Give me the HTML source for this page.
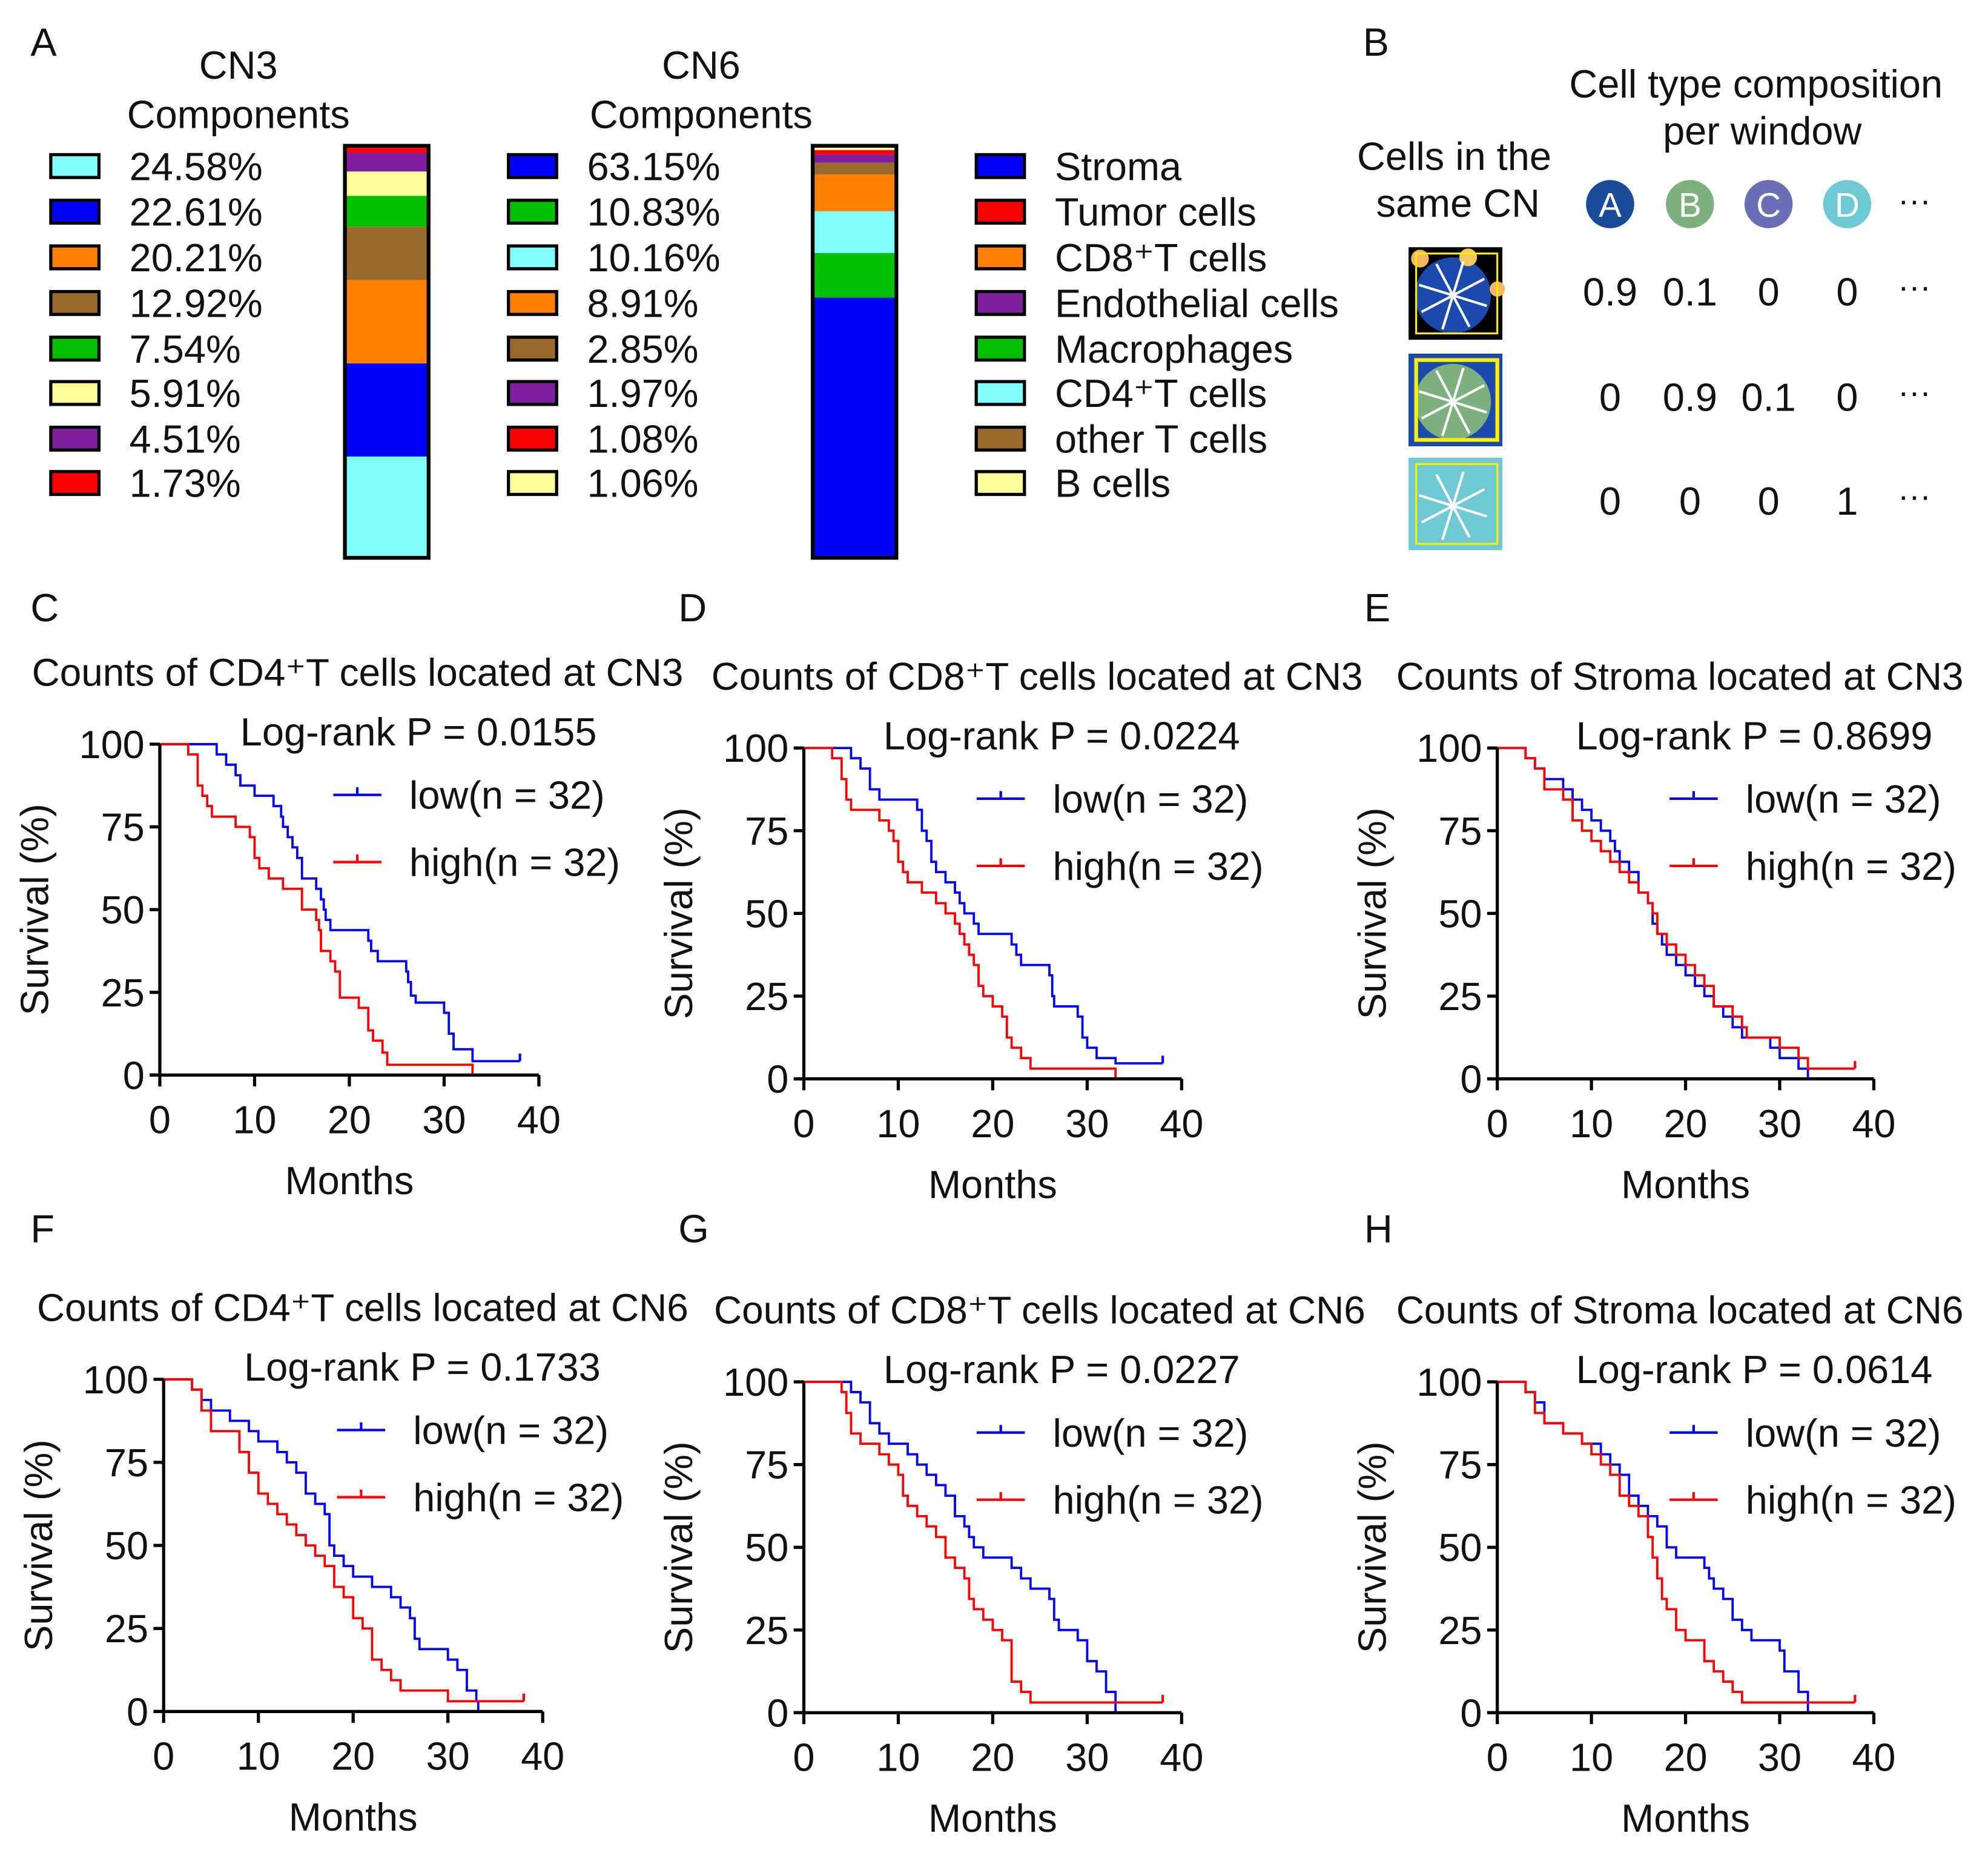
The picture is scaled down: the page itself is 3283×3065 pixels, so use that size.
<!DOCTYPE html>
<html><head><meta charset="utf-8"><style>
html,body{margin:0;padding:0;background:#fff}
svg{display:block}
text{font-family:"Liberation Sans",Arial,sans-serif;fill:#111}
</style></head><body>
<svg id="fig" width="3283" height="3065" viewBox="0 0 1568 1464" xmlns="http://www.w3.org/2000/svg">
<g id="panelA"></g>
<g id="panelB"></g>
<g id="km"></g>
</svg>
<script>
const NS="http://www.w3.org/2000/svg";
function el(tag,attrs,parent,txt){const e=document.createElementNS(NS,tag);for(const k in attrs)e.setAttribute(k,attrs[k]);if(txt!==undefined)e.textContent=txt;parent.appendChild(e);return e;}
const FS=31;

// ---------- Panel A data ----------
const cn3Labels=["24.58%","22.61%","20.21%","12.92%","7.54%","5.91%","4.51%","1.73%"];
const cn3Values=[24.58,22.61,20.21,12.92,7.54,5.91,4.51,1.73];
const cn3Colors=["#80ffff","#0000ff","#ff8000","#9a6a2a","#00c000","#ffff99","#7f1f9f","#ff0000"];
const cn6Labels=["63.15%","10.83%","10.16%","8.91%","2.85%","1.97%","1.08%","1.06%"];
const cn6Values=[63.15,10.83,10.16,8.91,2.85,1.97,1.08,1.06];
const cn6Colors=["#0000ff","#00c000","#80ffff","#ff8000","#9a6a2a","#7f1f9f","#ff0000","#ffff99"];
const typeNames=["Stroma","Tumor cells","CD8⁺T cells","Endothelial cells","Macrophages","CD4⁺T cells","other T cells","B cells"];
const typeColors=["#0000ff","#ff0000","#ff8000","#7f1f9f","#00c000","#80ffff","#9a6a2a","#ffff99"];

const A=document.getElementById('panelA');
let t=el('text',{x:24,y:44,'font-size':31},A,'A');

function header(cx,name){
  let h=el('text',{x:cx,y:62,'font-size':FS,'text-anchor':'middle'},A,name);
  
  let c=el('text',{x:cx,y:101,'font-size':FS,'text-anchor':'middle'},A,'Components');
  
}
header(188,'CN3');header(553,'CN6');
const rowY=[131,167,203,239,275,310,346,381];
function legendList(sx,tx,labels,colors,prefix){
  labels.forEach((l,i)=>{
    let r=el('rect',{x:sx,y:rowY[i]-9,width:38,height:18,fill:colors[i],stroke:'#000','stroke-width':2.5},A);
    
    let tt=el('text',{x:tx,y:rowY[i]+11,'font-size':FS},A,l);
    
  });
}
legendList(40,102,cn3Labels,cn3Colors,'cn3-legend');
legendList(401,463,cn6Labels,cn6Colors,'cn6-legend');
legendList(770,832,typeNames,typeColors,'cell-type-legend');
function stack(x,vals,cols,prefix){
  const top=115,bot=440,total=vals.reduce((a,b)=>a+b,0);let y=bot;
  vals.forEach((v,i)=>{const h=v/total*(bot-top);
    let r=el('rect',{x:x,y:y-h,width:66,height:h,fill:cols[i]},A);
    y-=h;});
  let o=el('rect',{x:x,y:top,width:66,height:bot-top,fill:'none',stroke:'#000','stroke-width':3},A);
  
}
stack(272,cn3Values,cn3Colors,'cn3');stack(641,cn6Values,cn6Colors,'cn6');

// ---------- Panel B ----------
const B=document.getElementById('panelB');
const bLetters=["A","B","C","D"];
const bColors=["#1a4a9a","#7db07f","#6a6fb5","#6fc8d5"];
const bRows=[["0.9","0.1","0","0"],["0","0.9","0.1","0"],["0","0","0","1"]];
t=el('text',{x:1075,y:44,'font-size':31},B,'B');
[['Cell type composition',1385,77],['per window',1390,114],['Cells in the',1147,134],['same CN',1150,171]].forEach(a=>{
  let x=el('text',{x:a[1],y:a[2],'font-size':FS,'text-anchor':'middle'},B,a[0]);});
const colX=[1270,1333,1395,1457];
bLetters.forEach((L,i)=>{
  let c=el('circle',{cx:colX[i],cy:161,r:19,fill:bColors[i]},B);
  let x=el('text',{x:colX[i],y:171,'font-size':27,'text-anchor':'middle',style:'fill:#fff'},B,L);
});
const rowYs=[230,313,395];
let d=el('text',{x:1510,y:167,'font-size':26,'text-anchor':'middle'},B,'···');
bRows.forEach((row,r)=>{
  row.forEach((v,i)=>{let x=el('text',{x:colX[i],y:rowYs[r]+11,'font-size':FS,'text-anchor':'middle'},B,v);});
  let e=el('text',{x:1510,y:rowYs[r]+5,'font-size':26,'text-anchor':'middle'},B,'···');
});
const imgY=[195,279,361];
const imgBg=["#1a4ab0","#7db07f","#6fc8d5"];
imgY.forEach((y,i)=>{
  let g=el('g',{},B);
  el('rect',{x:1111,y:y,width:74,height:73,fill:i==2?'#6fc8d5':'#000'},g);
  if(i===1){el('rect',{x:1111,y:y,width:74,height:73,fill:'#1a4ab0'},g);}
  el('circle',{cx:1146,cy:y+38,r:30,fill:imgBg[i]},g);
  if(i===0){el('circle',{cx:1120,cy:y+9,r:7,fill:'#f5b860'},g);el('circle',{cx:1158,cy:y+8,r:7,fill:'#f5c860'},g);el('circle',{cx:1181,cy:y+33,r:6,fill:'#f5b860'},g);}
  el('rect',{x:1117,y:y+5,width:64,height:63,fill:'none',stroke:'#ffee00','stroke-width':i==1?3:1.5},g);
  for(let k=0;k<8;k++){const a=k*Math.PI/4+0.3;el('line',{x1:1146,y1:y+38,x2:1146+28*Math.cos(a),y2:y+38+28*Math.sin(a),stroke:'#fff','stroke-width':2},g);}
});

// ---------- KM data ----------
const tC_low=[0,6,7,8,8.5,10,12,12.8,13,13.5,14,14.5,15,16.5,17,17.3,17.5,18,22,22.3,23,26,26.2,26.5,27,30,30.5,31,33];
const sC_low=[100,96.9,93.8,90.6,87.5,84.4,81.3,78.1,75,71.9,68.8,65.6,59.4,56.3,53.1,50,46.9,43.8,40.6,37.5,34.4,31.3,28.1,24,21.9,18.8,12.5,7.8,4.2];
const tC_high=[0,3,4,4.5,5,5.5,8,9.5,10,10.5,11.5,13,15,16.5,16.8,17,18,18.5,19,21,22,22.5,23.5,24,33];
const sC_high=[100,96.9,87.5,84.4,81.3,78.1,75,71.9,65.6,62.5,59.4,56.3,50,46.9,43.8,37.5,34.4,31.3,23.4,20.3,13.5,10.4,6.8,3.1,0];
const tD_low=[0,5,6,7,8,12,12.5,13,13.5,14,15,16,16.5,17,18,18.5,22,22.5,23,26,26.3,26.5,29,29.5,30,31,33];
const sD_low=[100,96.9,93.8,87.5,84.4,81.3,75,71.9,65.6,62.5,59.4,56.3,53.1,50,46.9,43.8,40.6,37.5,34.4,31.3,25,21.9,18.8,12.5,9.4,6.3,4.7];
const tD_high=[0,3,4,4.5,5,8,9,9.5,10,10.5,11,12.5,14,15,16,16.5,17,17.5,18,18.5,19,20,21,21.5,22,23,24,33];
const sD_high=[100,96.9,90.6,84.4,81.3,78.1,75,71.9,65.6,62.5,59.4,56.3,53.1,50,46.9,43.8,40.6,37.5,34.4,28.1,25,21.9,18.8,12.5,9.4,6.3,3.1,0];
const tE_low=[0,3,4,5,7,8,9,10,11,12,12.5,13,14,15,16,16.5,17,17.5,18,19,20,21,22,23,24,25,26,29,30,32,33];
const sE_low=[100,96.9,93.8,90.6,87.5,84.4,81.3,78.1,75,71.9,68.8,65.6,62.5,56.3,53.1,46.9,43.8,40.6,37.5,34.4,31.3,28.1,25,21.9,18.8,15.6,12.5,9.4,6.3,3.1,0];
const tE_high=[0,3,4,5,7,8,9,10,11,12,13,14,15,16,16.5,17,18,19,20,21,22,23,25,26,26.5,30,32,33];
const sE_high=[100,96.9,93.8,87.5,84.4,78.1,75,71.9,68.8,65.6,62.5,59.4,56.3,53.1,50,43.8,40.6,37.5,34.4,31.3,28.1,21.9,18.8,15.6,12.5,9.4,6.3,3.1];
const tF_low=[0,3,4,5,7,9,10,12,13,14,15,16,17,17.5,18,19,20,22,24,25,26,26.5,27,30,31,32,33,33.2];
const sF_low=[100,96.9,93.8,90.6,87.5,84.4,81.3,78.1,75,71.9,65.6,62.5,59.4,50,46.9,43.8,40.6,37.5,34.4,31.3,28.1,21.9,18.8,15.6,12.5,6.3,3.1,0];
const tF_high=[0,3,4,5,8,9,10,11,12,13,14,15,16,17,18,19,20,21,22,23,24,25,30];
const sF_high=[100,96.9,90.6,84.4,78.1,71.9,65.6,62.5,59.4,56.3,53.1,50,46.9,43.8,37.5,34.4,28.1,25,15.6,12.5,9.4,6.3,3.1];
const tG_low=[0,5,6,7,8,9,11,12,13,14,15,16,17,17.5,18,19,22,23,24,26,26.5,27,29,30,31,32,33];
const sG_low=[100,96.9,93.8,87.5,84.4,81.3,78.1,75,71.9,68.8,65.6,59.4,56.3,53.1,50,46.9,43.8,40.6,37.5,34.4,28.1,25,21.9,15.6,12.5,6.3,0];
const tG_high=[0,4,4.5,5,6,8,9,10,10.5,11,12,13,14,15,16,17,17.5,18,19,20,21,22,23,24];
const sG_high=[100,96.9,90.6,84.4,81.3,78.1,75,71.9,65.6,62.5,59.4,56.3,53.1,46.9,43.8,40.6,34.4,31.3,28.1,25,21.9,9.4,6.3,3.1];
const tH_low=[0,3,4,5,7,9,11,12,13,14,15,16,17,18,19,22,22.5,23,24,25,26,27,30,30.5,32,33];
const sH_low=[100,96.9,93.8,87.5,84.4,81.3,78.1,75,71.9,65.6,62.5,59.4,56.3,50,46.9,43.8,40.6,37.5,34.4,28.1,25,21.9,18.8,12.5,6.3,0];
const tH_high=[0,3,4,5,7,9,10,11,12,13,14,15,16,16.5,17,17.5,18,19,20,22,23,24,25,26];
const sH_high=[100,96.9,90.6,87.5,84.4,81.3,78.1,75,71.9,65.6,62.5,59.4,53.1,46.9,40.6,34.4,31.3,25,21.9,15.6,12.5,9.4,6.3,3.1];
const xTicks=[0,10,20,30,40];
const yTicks=[0,25,50,75,100];
const pValues=["0.0155","0.0224","0.8699","0.1733","0.0227","0.0614"];
const titles=["Counts of CD4⁺T cells located at CN3","Counts of CD8⁺T cells located at CN3","Counts of Stroma located at CN3","Counts of CD4⁺T cells located at CN6","Counts of CD8⁺T cells located at CN6","Counts of Stroma located at CN6"];
const letters=["C","D","E","F","G","H"];

const panels=[
 {x0:126,x1:425,y1:587,y0:848,lx:24,tx:282,low:[tC_low,sC_low],high:[tC_high,sC_high]},
 {x0:634,x1:932,y1:590,y0:851,lx:535,tx:818,low:[tD_low,sD_low],high:[tD_high,sD_high]},
 {x0:1181,x1:1478,y1:590,y0:851,lx:1076,tx:1325,low:[tE_low,sE_low],high:[tE_high,sE_high]},
 {x0:129,x1:428,y1:1088,y0:1350,lx:24,tx:286,low:[tF_low,sF_low],high:[tF_high,sF_high]},
 {x0:634,x1:932,y1:1090,y0:1351,lx:535,tx:820,low:[tG_low,sG_low],high:[tG_high,sG_high]},
 {x0:1181,x1:1478,y1:1090,y0:1351,lx:1076,tx:1325,low:[tH_low,sH_low],high:[tH_high,sH_high]}
];
const K=document.getElementById('km');
panels.forEach((p,i)=>{
  const g=el('g',{},K);
  const xs=v=>p.x0+(v/40)*(p.x1-p.x0);
  const ys=v=>p.y0-(v/100)*(p.y0-p.y1);
  const top=i<3?478:968;
  let e=el('text',{x:p.lx,y:top+12,'font-size':31},g,letters[i]);
  e=el('text',{x:p.tx,y:p.y1-46,'font-size':30.5,'text-anchor':'middle'},g,titles[i]);
  e=el('text',{x:xs(27.3),y:p.y1+1,'font-size':FS,'text-anchor':'middle'},g,'Log-rank P = '+pValues[i]);
  [['low','#0000ff',p.low],['high','#ff0000',p.high]].forEach(c=>{
    const T=c[2][0],S=c[2][1];let dd='M'+xs(T[0])+','+ys(S[0]);
    for(let k=1;k<T.length;k++){dd+=' H'+xs(T[k])+' V'+ys(S[k]);}
    dd+=' H'+xs(S[S.length-1]>0?38:T[T.length-1]);
    let path=el('path',{d:dd,fill:'none',stroke:c[1],'stroke-width':1.8},g);
    
    if(S[S.length-1]>0){let tk=el('line',{x1:xs(38),x2:xs(38),y1:ys(S[S.length-1]),y2:ys(S[S.length-1])-6,stroke:c[1],'stroke-width':2},g);
      }
  });
  e=el('line',{x1:p.x0,y1:p.y1,x2:p.x0,y2:p.y0,stroke:'#000','stroke-width':2.5},g);
  e=el('line',{x1:p.x0-8,y1:p.y0,x2:p.x1,y2:p.y0,stroke:'#000','stroke-width':2.5},g);
  yTicks.forEach(v=>{
    let l=el('line',{x1:p.x0-8,x2:p.x0,y1:ys(v),y2:ys(v),stroke:'#000','stroke-width':2.5},g);
    let tt=el('text',{x:p.x0-12,y:ys(v)+11,'font-size':FS,'text-anchor':'end'},g,String(v));
  });
  xTicks.forEach(v=>{
    let l=el('line',{x1:xs(v),x2:xs(v),y1:p.y0,y2:p.y0+9,stroke:'#000','stroke-width':2.5},g);
    let tt=el('text',{x:xs(v),y:p.y0+46,'font-size':FS,'text-anchor':'middle'},g,String(v));
  });
  e=el('text',{x:xs(20),y:p.y0+94,'font-size':FS,'text-anchor':'middle'},g,'Months');
  const ay=(p.y0+p.y1)/2, ax=p.x0-88;
  e=el('text',{x:ax,y:ay,'font-size':FS,'text-anchor':'middle',transform:'rotate(-90 '+ax+' '+ay+')'},g,'Survival (%)');
  [['low(n = 32)','#0000ff',40],['high(n = 32)','#ff0000',93]].forEach(L=>{
    const ly=p.y1+L[2];const lx=xs(18.3);
    let ln=el('line',{x1:lx,x2:lx+38,y1:ly,y2:ly,stroke:L[1],'stroke-width':2},g);
    ln=el('line',{x1:lx+19,x2:lx+19,y1:ly,y2:ly-6,stroke:L[1],'stroke-width':2},g);
    let tt=el('text',{x:lx+60,y:ly+11,'font-size':FS},g,L[0]);
  });
});
</script>
</body></html>
